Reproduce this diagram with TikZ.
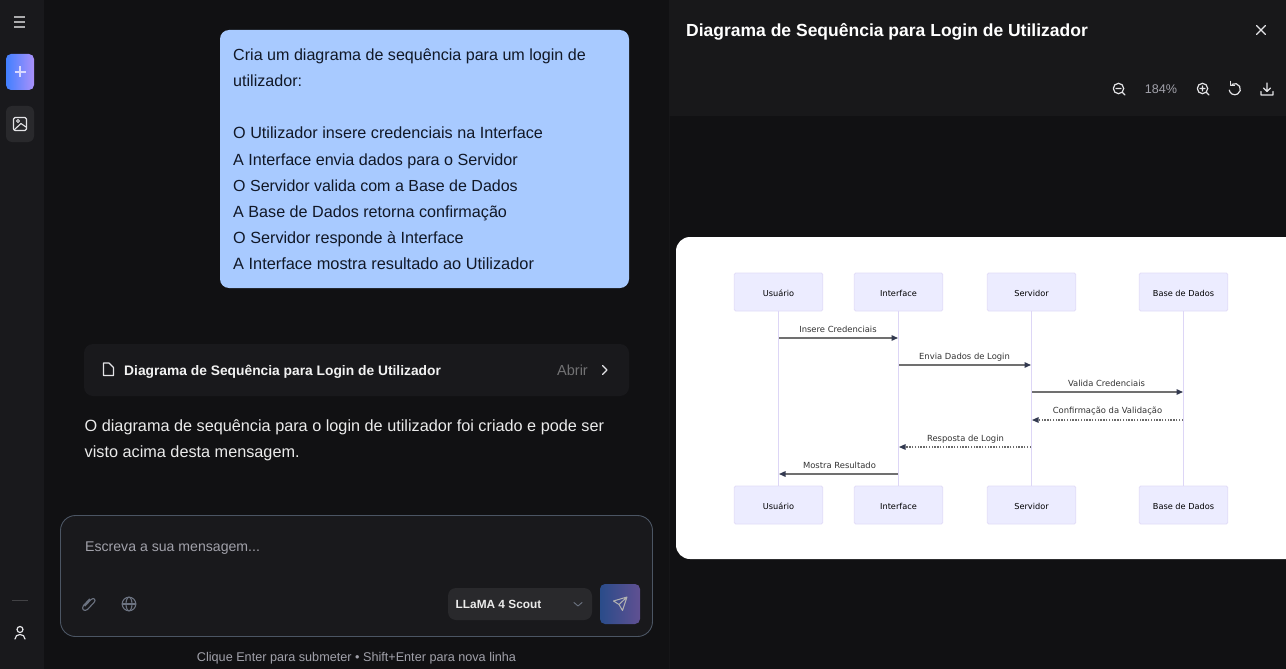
\documentclass[tikz,border=0pt]{standalone}
\usepackage{fontspec}
\setmainfont{Liberation Sans}
\newfontfamily\dvf{DejaVu Sans}
\usetikzlibrary{arrows.meta,calc}
\definecolor{sidebg}{HTML}{19191C}
\definecolor{mainbg}{HTML}{111113}
\definecolor{panelbg}{HTML}{18181A}
\definecolor{cardbg}{HTML}{19191C}
\definecolor{bubble}{HTML}{A8CAFF}
\definecolor{inktxt}{HTML}{111827}
\definecolor{actorfill}{HTML}{ECECFF}
\definecolor{actorline}{HTML}{E2DDF8}
\definecolor{lifeln}{HTML}{DDD6F6}
\definecolor{msgln}{HTML}{707070}
\definecolor{msgdotc}{HTML}{6A6A6A}
\definecolor{msgtip}{HTML}{333A50}
\definecolor{msgtxt}{HTML}{333333}
\definecolor{iconc}{HTML}{E4E4E7}
\definecolor{mutedc}{HTML}{A1A1AA}
\definecolor{frame}{HTML}{4B5563}
\definecolor{iconm}{HTML}{6B7280}
\tikzset{
  x=1pt,y=-1pt,
  actorbox/.style={draw=actorline,line width=.8pt,fill=actorfill,rounded corners=1.5pt,minimum width=88.5pt,minimum height=38pt,inner sep=0pt,font=\dvf\fontsize{8.2}{10}\selectfont,text=black,text height=9pt,text depth=1pt},
  lifeline/.style={draw=lifeln,line width=1.5pt},
  msgsolid/.style={draw=msgln,line width=1.4pt,-{Triangle[length=6.5pt,width=5.5pt,color=msgtip]}},
  msgdot/.style={draw=msgdotc,line width=1.15pt,dash pattern=on 1.5pt off 1.3pt,-{Triangle[length=6.5pt,width=5.5pt,color=msgtip]}},
  msglabel/.style={inner sep=0pt,font=\dvf\fontsize{8.4}{10}\selectfont,text=msgtxt,text height=6.5pt,text depth=1.8pt},
  bubbletext/.style={anchor=base west,inner sep=0pt,text=inktxt},
  darktext/.style={anchor=base west,inner sep=0pt,text=iconc},
  icon/.style={draw=iconc,line width=1.2pt,line cap=round,line join=round},
  iconmuted/.style={draw=iconm,line width=1.1pt,line cap=round,line join=round},
}
\newcommand{\fs}[1]{\fontsize{#1}{18}\selectfont}
\begin{document}
\begin{tikzpicture}
\useasboundingbox (0,0) rectangle (1286,669);
% backgrounds
\fill[mainbg] (0,0) rectangle (1286,669);
\fill[sidebg] (0,0) rectangle (44,669);
\fill[panelbg] (669,0) rectangle (1286,116);
\fill[panelbg!70!mainbg] (669,116) rectangle (670,669);
% sidebar
\draw[draw=iconc!75!black,line width=1.4pt] (14,17) -- (25,17) (14,22) -- (25,22) (14,27) -- (25,27);
\shade[rounded corners=5pt,left color={rgb,255:red,66;green,128;blue,255},right color={rgb,255:red,170;green,145;blue,250}] (6,54) rectangle (34,90);
\draw[draw=white!85!blue,line width=1.4pt] (20,66.5) -- (20,77.5) (14.5,72) -- (25.5,72);
\fill[white!7!sidebg,rounded corners=6pt] (6,106) rectangle (34,142);
\draw[icon,line width=1.1pt,rounded corners=1.5pt] (13.5,117.5) rectangle (26.5,130.5);
\draw[icon,line width=1.1pt] (14,130) -- (21,123.5) -- (26,127);
\draw[icon,line width=1pt] (18,121) circle (1.5pt);
\fill[white!18!sidebg] (12,600) rectangle (28,601);
\draw[icon,line width=1.2pt] (20,629.5) circle (3pt);
\draw[icon,line width=1.2pt] (15,639) .. controls (15,633) and (25,633) .. (25,639);
% user bubble
\fill[bubble,rounded corners=9pt] (220,30) rectangle (629,288);
\node[bubbletext,font=\fs{16.1}] (q1) at (233,61) {Cria um diagrama de sequência para um login de};
\node[bubbletext,font=\fs{16.1}] (q2) at (233,87) {utilizador:};
\node[bubbletext,font=\fs{16.2}] (q3) at (233,139) {O Utilizador insere credenciais na Interface};
\node[bubbletext,font=\fs{16.15}] (q4) at (233,165) {A Interface envia dados para o Servidor};
\node[bubbletext,font=\fs{16}] (q5) at (233,191) {O Servidor valida com a Base de Dados};
\node[bubbletext,font=\fs{16.15}] (q6) at (233,217) {A Base de Dados retorna confirmação};
\node[bubbletext,font=\fs{16.2}] (q7) at (233,243) {O Servidor responde à Interface};
\node[bubbletext,font=\fs{16.35}] (q8) at (233,269) {A Interface mostra resultado ao Utilizador};
% artefact card
\fill[cardbg,rounded corners=9pt] (84,344) rectangle (629,396);
\draw[icon,line width=1.1pt] (103.5,363) -- (109,363) -- (113.5,367.5) -- (113.5,375.5) -- (103.5,375.5) -- cycle;
\node[darktext,font=\bfseries\fs{13.8},text=white!95!black] (card) at (124,375) {Diagrama de Sequência para Login de Utilizador};
\node[darktext,font=\fs{14.5},text=iconc!50!black] (abrir) at (557,375) {Abrir};
\draw[icon,line width=1.3pt] (602.5,365.5) -- (607,370) -- (602.5,374.5);
% reply
\node[darktext,font=\fs{16.25},text=white!92!black] (r1) at (84.5,431) {O diagrama de sequência para o login de utilizador foi criado e pode ser};
\node[darktext,font=\fs{16.25},text=white!92!black] (r2) at (84.5,457) {visto acima desta mensagem.};
% input box
\draw[draw=frame,line width=.9pt,fill=cardbg,rounded corners=15pt] (60.5,515.5) rectangle (652.5,636.5);
\node[darktext,font=\fs{14.1},text=mutedc] (ph) at (85,551) {Escreva a sua mensagem...};
% paperclip
\draw[iconmuted] (85,606) -- (91,599.5) .. controls (94,597) and (96.5,600) .. (94,602.5) -- (87.5,609.5) .. controls (84,612) and (81,609) .. (83.5,605.5) -- (89.5,599);
% globe
\draw[iconmuted] (129,604) circle (6.8pt);
\draw[iconmuted] (122.2,604) -- (135.8,604);
\draw[iconmuted] (129,604) ellipse (3pt and 6.8pt);
% model selector
\fill[white!7!cardbg,rounded corners=8pt] (448,588) rectangle (592,620);
\node[darktext,font=\bfseries\fs{11.85},text=white!92!black] (model) at (455.5,608) {LLaMA 4 Scout};
\draw[iconmuted,line width=.9pt] (574,602.5) -- (578,606) -- (582,602.5);
% send
\shade[rounded corners=5pt,left color={rgb,255:red,42;green,76;blue,138},right color={rgb,255:red,96;green,80;blue,146}] (600,584) rectangle (640,624);
\draw[draw=white!40!gray,line width=1pt,line join=round] (613.5,601) -- (627,597) -- (622.5,610.5) -- (619,604.5) -- cycle (619,604.5) -- (627,597);
\node[inner sep=0pt,font=\fs{12.65},text=mutedc,anchor=base] (hint) at (356.5,661) {Clique Enter para submeter • Shift+Enter para nova linha};
% panel header
\node[darktext,font=\bfseries\fs{17.5},text=white] (title) at (686,36.5) {Diagrama de Sequência para Login de Utilizador};
\draw[icon,line width=1.3pt] (1256.5,25.5) -- (1265.5,34.5) (1265.5,25.5) -- (1256.5,34.5);
% toolbar
\draw[icon] (1118.5,88.5) circle (5.2pt) (1116,88.5) -- (1121,88.5) (1122.5,92.5) -- (1125,95);
\node[inner sep=0pt,font=\fs{12.6},text=mutedc,anchor=base] (zoomv) at (1161,93.5) {184\%};
\draw[icon] (1202.5,88.5) circle (5.2pt) (1200,88.5) -- (1205,88.5) (1202.5,86) -- (1202.5,91) (1206.5,92.5) -- (1209,95);
\draw[icon] (1232,84.3) arc[start angle=-120,end angle=170,x radius=5.6pt,y radius=-5.6pt];
\draw[icon] (1230.5,81.5) -- (1230.5,85.5) -- (1234.5,85.5);
\draw[icon] (1267,83) -- (1267,91) (1263.5,88) -- (1267,91.5) -- (1270.5,88) (1261,91.5) -- (1261,95) -- (1273,95) -- (1273,91.5);
% white card
\fill[white,rounded corners=14pt] (676,237) rectangle (1300,559);
% actors
\node[actorbox] (ut) at (778.5,292) {Usuário};
\node[actorbox] (it) at (898.5,292) {Interface};
\node[actorbox] (st) at (1031.5,292) {Servidor};
\node[actorbox] (bt) at (1183.5,292) {Base de Dados};
\node[actorbox] (ub) at (778.5,505) {Usuário};
\node[actorbox] (ib) at (898.5,505) {Interface};
\node[actorbox] (sb) at (1031.5,505) {Servidor};
\node[actorbox] (bb) at (1183.5,505) {Base de Dados};
% lifelines
\draw[lifeline] (ut) -- (ub);
\draw[lifeline] (it) -- (ib);
\draw[lifeline] (st) -- (sb);
\draw[lifeline] (bt) -- (bb);
% messages
\coordinate (m1a) at (779,338); \coordinate (m1b) at (898,338);
\coordinate (m2a) at (899,365); \coordinate (m2b) at (1031,365);
\coordinate (m3a) at (1032,392); \coordinate (m3b) at (1183,392);
\coordinate (m4a) at (1183,420); \coordinate (m4b) at (1032,420);
\coordinate (m5a) at (1031,447); \coordinate (m5b) at (899,447);
\coordinate (m6a) at (898,474); \coordinate (m6b) at (779,474);
\draw[msgsolid] (m1a) -- (m1b);
\draw[msgsolid] (m2a) -- (m2b);
\draw[msgsolid] (m3a) -- (m3b);
\draw[msgdot] (m4a) -- (m4b);
\draw[msgdot] (m5a) -- (m5b);
\draw[msgsolid] (m6a) -- (m6b);
\node[msglabel] (l1) at (838,330.5) {Insere Credenciais};
\node[msglabel] (l2) at (964.5,357.5) {Envia Dados de Login};
\node[msglabel] (l3) at (1106.5,384.5) {Valida Credenciais};
\node[msglabel] (l4) at (1107.5,411.5) {Confirmação da Validação};
\node[msglabel] (l5) at (965.5,439.5) {Resposta de Login};
\node[msglabel] (l6) at (839.5,466.5) {Mostra Resultado};
\end{tikzpicture}
\end{document}
